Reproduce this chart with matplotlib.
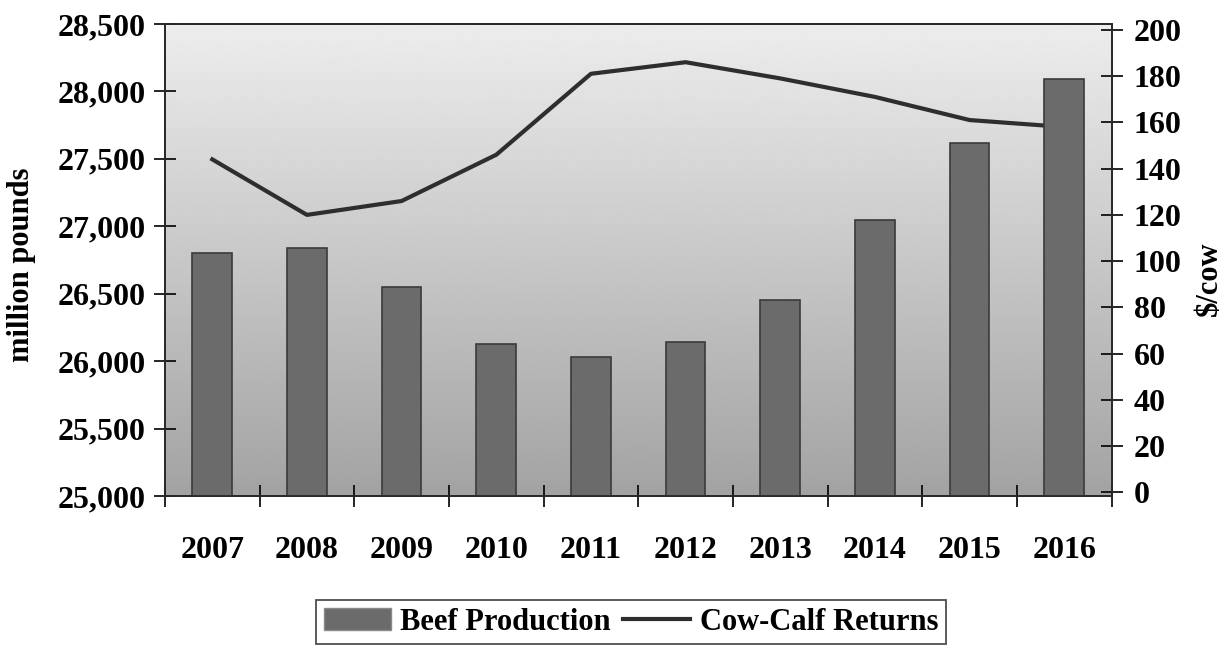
import numpy as np
import matplotlib.pyplot as plt
from matplotlib.patches import Patch
from matplotlib.lines import Line2D
from matplotlib.ticker import FuncFormatter, FixedLocator

years = ['2007', '2008', '2009', '2010', '2011', '2012', '2013', '2014', '2015', '2016']
beef_production = [26800, 26840, 26550, 26130, 26030, 26145, 26450, 27050, 27620, 28090]  # million pounds
cow_calf_returns = [144, 120, 126, 146, 181, 186, 179, 171, 161, 158]  # $/cow

plt.rcParams['font.family'] = ['Liberation Serif', 'DejaVu Serif']
plt.rcParams['font.weight'] = 'bold'
plt.rcParams['axes.labelweight'] = 'bold'

fig = plt.figure(figsize=(12.31, 6.5), dpi=100)
ax = fig.add_axes([0.134, 0.237, 0.769, 0.726])
ax2 = ax.twinx()

x = np.arange(len(years))

# gray gradient behind everything, light at the top
grad = np.linspace(0, 1, 256).reshape(-1, 1)
ax2.imshow(grad, cmap='gray', vmin=-2.2, vmax=1.25, aspect='auto',
           extent=[0, 1, 0, 1], transform=ax2.transAxes, zorder=0,
           origin='lower', interpolation='bilinear')

ax2.plot(x, cow_calf_returns, color='#2e2e2e', lw=3.0, zorder=2,
         solid_joinstyle='round')
ax2.set_ylim(-1.5, 202.5)
ax2.set_yticks(range(0, 201, 20))

# bars sit above the line axes
ax.set_zorder(ax2.get_zorder() + 1)
ax.patch.set_visible(False)
ax.bar(x, beef_production, width=0.42, color='#6b6b6b', edgecolor='#3a3a3a',
       linewidth=1.2)
ax.set_ylim(25000, 28500)
ax.set_yticks(range(25000, 28501, 500))
ax.yaxis.set_major_formatter(FuncFormatter(lambda v, p: f'{int(v):,}'))
ax.set_xlim(-0.5, len(years) - 0.5)

# category boundaries get ticks, labels sit between them
ax.xaxis.set_major_locator(FixedLocator(np.arange(-0.5, len(years), 1.0)))
ax.xaxis.set_major_formatter(FuncFormatter(lambda v, p: ''))
ax.xaxis.set_minor_locator(FixedLocator(x))
ax.set_xticklabels(years, minor=True)
ax.tick_params(axis='x', which='major', direction='inout', length=16, width=1.2)
ax.tick_params(axis='x', which='minor', length=0, pad=29, labelsize=23)
ax.tick_params(axis='y', direction='inout', length=16, width=1.2, labelsize=23, pad=6)
ax2.tick_params(axis='y', direction='inout', length=16, width=1.2, labelsize=23, pad=8)

for a in (ax, ax2):
    for s in a.spines.values():
        s.set_color('#2a2a2a')
        s.set_linewidth(1.3)

ax.set_ylabel('million pounds', fontsize=22)
ax.yaxis.set_label_coords(-0.136, 0.49)
ax2.set_ylabel('$/cow', fontsize=22)
ax2.yaxis.set_label_coords(1.088, 0.46)

handles = [Patch(facecolor='#6b6b6b', edgecolor='#8a8a8a'),
           Line2D([0], [0], color='#2e2e2e', lw=3)]
leg = fig.legend(handles, ['Beef Production', 'Cow-Calf Returns'],
                 loc='center', bbox_to_anchor=(631 / 1231, 1 - 622 / 650),
                 ncol=2, fontsize=22, frameon=True, fancybox=False,
                 handlelength=2.2, handletextpad=0.3, columnspacing=0.4,
                 borderpad=0.25, edgecolor='#222222')
leg.get_frame().set_linewidth(1.3)

fig.savefig('out.png', dpi=100)
